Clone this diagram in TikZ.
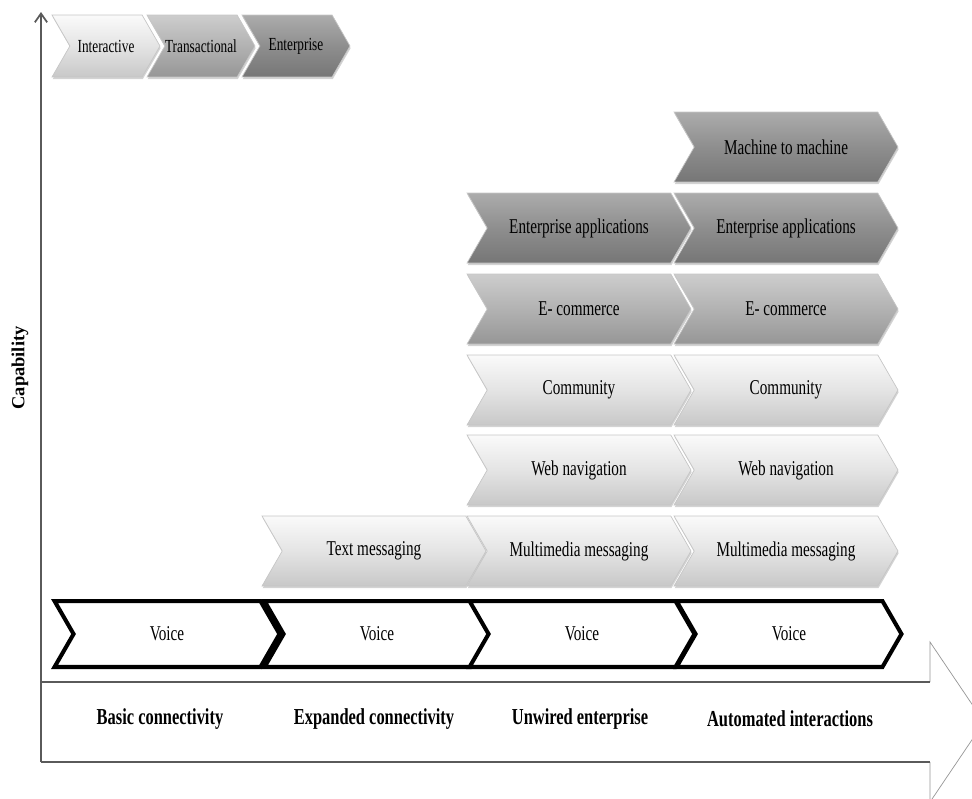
\documentclass[tikz,border=0pt]{standalone}
\usepackage{fontspec}
\setmainfont{Liberation Serif}
\newfontfamily\narrowfont[FakeStretch=0.72]{Liberation Serif}
\usepackage{tikz}
\usetikzlibrary{shapes.symbols, arrows.meta, shadows}
\definecolor{lighttop}{RGB}{250,250,250}
\definecolor{lightmid}{RGB}{228,228,228}
\definecolor{lightbottom}{RGB}{200,200,200}
\definecolor{midtop}{RGB}{205,205,205}
\definecolor{midmid}{RGB}{178,178,178}
\definecolor{midbottom}{RGB}{150,150,150}
\definecolor{darktop}{RGB}{172,172,172}
\definecolor{darkmid}{RGB}{142,142,142}
\definecolor{darkbottom}{RGB}{118,118,118}
\definecolor{axiscolor}{RGB}{90,90,90}
\definecolor{arrowedge}{RGB}{150,150,150}

\begin{document}
\begin{tikzpicture}[
    x=0.02cm, y=-0.02cm,
    every node/.style={font=\narrowfont\fontsize{12}{14}\selectfont, text=black},
    chevron/.style={shape=signal, signal from=west, signal to=east, signal pointer angle=120,
        minimum width=4.48cm, minimum height=1.4cm, inner sep=0pt, draw=gray!45, line width=0.4pt,
        drop shadow={shadow xshift=0.4pt, shadow yshift=-1.2pt, opacity=0.35}},
    light chevron/.style={chevron, top color=lighttop, bottom color=lightbottom, middle color=lightmid},
    mid chevron/.style={chevron, top color=midtop, bottom color=midbottom, middle color=midmid},
    dark chevron/.style={chevron, top color=darktop, bottom color=darkbottom, middle color=darkmid},
    legend chevron/.style={minimum width=2.16cm, minimum height=1.24cm, font=\narrowfont\fontsize{10.5}{12}\selectfont},
    voice chevron/.style={shape=signal, signal from=west, signal to=east, signal pointer angle=120,
        minimum width=4.5cm, minimum height=1.32cm, inner sep=0pt, draw=black, line width=2.3pt, fill=white},
    stage label/.style={font=\narrowfont\bfseries\fontsize{13}{15}\selectfont}
]
    \useasboundingbox (0,0) rectangle (972,798);

    % time arrow along the bottom
    \fill[white] (41,682) -- (930,682) -- (930,642) -- (984,722) -- (930,802) -- (930,762) -- (41,762) -- cycle;
    \draw[arrowedge, line width=0.4pt] (930,682) -- (930,642) -- (984,722) -- (930,802) -- (930,762);
    \draw[axiscolor, line width=1.4pt] (41,682) -- (930,682);
    \draw[axiscolor, line width=1.4pt] (41,762) -- (930,762);

    \node[stage label] (basic) at (160,719) {Basic connectivity};
    \node[stage label] (expanded) at (374,719) {Expanded connectivity};
    \node[stage label] (unwired) at (580,719) {Unwired enterprise};
    \node[stage label] (automated) at (790,719) {Automated interactions};

    % capability axis
    \coordinate (origin) at (41,762);
    \coordinate (ytip) at (41,12);
    \draw[axiscolor, line width=1pt, -{Straight Barb[length=5pt, width=7pt]}] (origin) -- (ytip);
    \node[rotate=90, font=\bfseries\fontsize{10.5}{12}\selectfont] (capability) at (20,368) {Capability};

    % legend
    \node[light chevron, legend chevron] (interactive) at (106,46) {Interactive};
    \node[mid chevron, legend chevron] (transactional) at (201,46) {Transactional};
    \node[dark chevron, legend chevron] (enterprise) at (296,46) {Enterprise};

    % voice row
    \node[voice chevron] (voice1) at (167,634) {Voice};
    \node[voice chevron] (voice2) at (377,634) {Voice};
    \node[voice chevron] (voice3) at (582,634) {Voice};
    \node[voice chevron] (voice4) at (789,634) {Voice};

    % expanded connectivity
    \node[light chevron] (text2) at (374,551) {Text messaging};

    % unwired enterprise
    \node[light chevron] (mms3) at (579,551) {Multimedia messaging};
    \node[light chevron] (web3) at (579,470) {Web navigation};
    \node[light chevron] (community3) at (579,390) {Community};
    \node[mid chevron] (ecommerce3) at (579,309) {E- commerce};
    \node[dark chevron] (apps3) at (579,228) {Enterprise applications};

    % automated interactions
    \node[light chevron] (mms4) at (786,551) {Multimedia messaging};
    \node[light chevron] (web4) at (786,470) {Web navigation};
    \node[light chevron] (community4) at (786,390) {Community};
    \node[mid chevron] (ecommerce4) at (786,309) {E- commerce};
    \node[dark chevron] (apps4) at (786,228) {Enterprise applications};
    \node[dark chevron] (m2m4) at (786,147) {Machine to machine};
\end{tikzpicture}
\end{document}
